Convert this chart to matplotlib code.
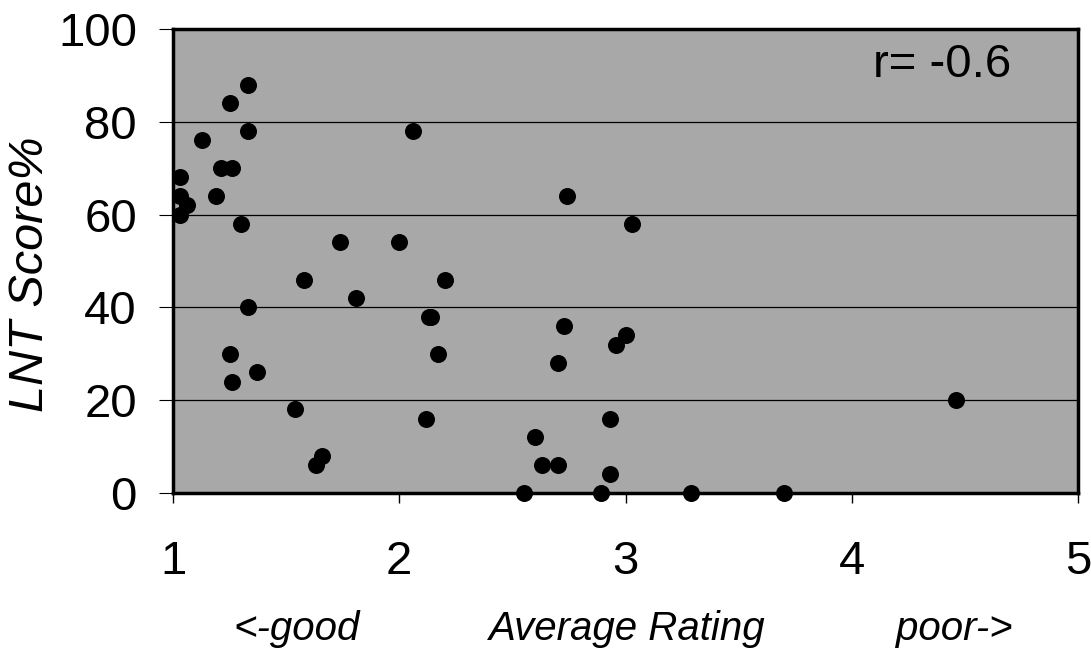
import matplotlib
matplotlib.use("Agg")
import matplotlib.pyplot as plt

plt.rcParams['font.family'] = ['Liberation Sans', 'DejaVu Sans']

# Data
rating = [1.33, 1.25, 1.33, 1.13, 2.06, 1.21, 1.26, 1.03, 1.19, 1.03, 1.06, 1.03,
          1.30, 1.74, 2.00, 1.58, 2.20, 1.81, 1.33, 2.14, 2.13, 2.17, 1.25, 1.37,
          1.26, 1.54, 2.12, 1.66, 1.63, 2.74, 3.03, 2.73, 3.00, 2.96, 2.70, 2.93,
          2.60, 2.63, 2.70, 2.93, 2.55, 2.89, 3.29, 3.70, 4.46]
score = [88, 84, 78, 76, 78, 70, 70, 68, 64, 64, 62, 60,
         58, 54, 54, 46, 46, 42, 40, 38, 38, 30, 30, 26,
         24, 18, 16, 8, 6, 64, 58, 36, 34, 32, 28, 16,
         12, 6, 6, 4, 0, 0, 0, 0, 20]

x_ticks = [1, 2, 3, 4, 5]
y_ticks = [0, 20, 40, 60, 80, 100]
r_label = "r= -0.6"

fig = plt.figure(figsize=(10.91, 6.58), dpi=100)
ax = fig.add_axes([173/1091, 1 - 493/658, (1078-173)/1091, (493-29)/658])
ax.set_facecolor('#a8a8a8')
ax.set_xlim(1, 5)
ax.set_ylim(0, 100)

for yv in y_ticks[1:-1]:
    ax.axhline(yv, color='black', lw=0.9, zorder=1)

ax.scatter(rating, score, s=150, color='black', zorder=3, clip_on=False, linewidths=0)

ax.set_xticks(x_ticks)
ax.set_yticks(y_ticks)
ax.tick_params(axis='x', direction='out', length=7, width=1, pad=27, labelsize=34)
ax.tick_params(axis='y', direction='out', length=10, width=0.8, pad=16, labelsize=34)
for s in ax.spines.values():
    s.set_linewidth(2.5)
    s.set_color('black')

fig.text(31/1091, 1 - 274/658, 'LNT Score%', fontsize=35, style='italic',
         rotation=90, ha='center', va='center')

ax.text(873, 65, r_label, transform=None, fontsize=34, ha='left', va='center')
# place r label in figure pixel coords
ax.texts[-1].set_transform(fig.dpi_scale_trans)
ax.texts[-1].set_position((873/100, (658-65)/100))

fig.text(297/1091, 1 - 640/658, '<-good', fontsize=29, style='italic', ha='center', va='baseline')
fig.text(627/1091, 1 - 640/658, 'Average Rating', fontsize=29, style='italic', ha='center', va='baseline')
fig.text(954/1091, 1 - 640/658, 'poor->', fontsize=29, style='italic', ha='center', va='baseline')

fig.savefig('out.png', dpi=100)
